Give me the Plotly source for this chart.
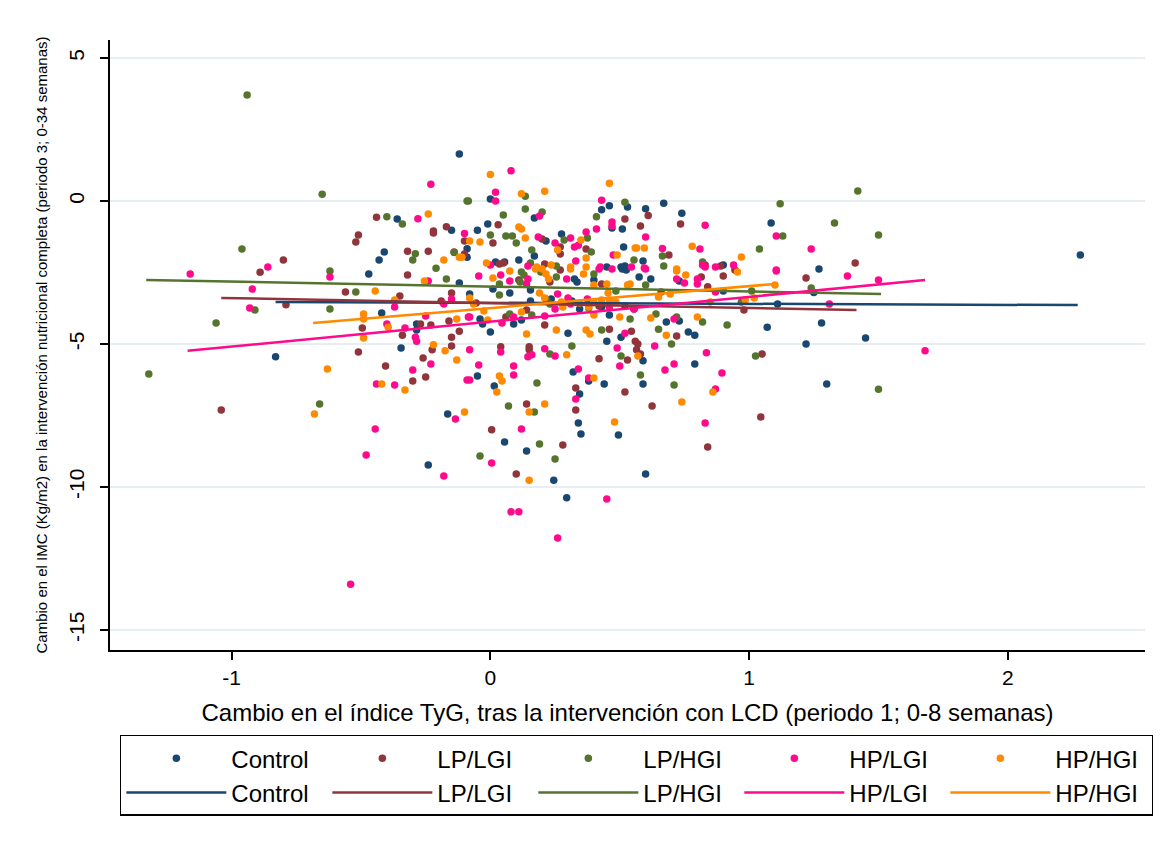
import plotly.graph_objects as go

groups = ["Control", "LP/LGI", "LP/HGI", "HP/LGI", "HP/HGI"]
colors = ["#1a476f", "#90353b", "#55752f", "#ff0a8c", "#ff8a00"]

control_pts = [(2.28,-1.89),(1.27,-2.38),(1.25,-3.2),(1.28,-4.27),(1.22,-5.0),(1.45,-4.79),(1.30,-6.4),
(-0.83,-5.45),(-0.12,1.64),(-0.36,-0.63),(-0.15,-1.02),(-0.41,-1.78),(-0.43,-2.06),(-0.09,-1.97),(-0.09,-1.67),
(0.0,0.07),(0.46,-0.17),(0.53,-0.21),(0.43,-0.31),(0.47,-0.94),(0.51,-0.98),(0.17,-0.59),(-0.01,-0.8),(-0.05,-1.02),
(0.215,-1.4),(0.275,-1.15),(0.515,-1.61),(0.17,-1.92),(0.11,-2.06),(0.02,-2.13),(0.055,-2.13),(0.45,-2.31),(0.505,-2.31),(0.52,-2.27),
(0.67,-0.08),(0.60,-0.27),(0.74,-0.43),(0.59,-2.1),(0.90,-2.24),(1.085,-0.77),
(-0.47,-2.55),(-0.12,-2.87),(-0.42,-3.92),(-0.285,-4.3),(-0.285,-4.51),(-0.345,-5.14),(-0.165,-7.45),(-0.24,-9.23),
(0.01,-3.08),(0.325,-2.73),(0.335,-2.83),(0.40,-2.76),(0.51,-2.38),(0.525,-2.41),(0.075,-3.22),(0.155,-3.11),(0.155,-3.5),
(0.235,-3.43),(0.315,-3.5),(0.345,-3.78),(0.43,-3.71),(0.52,-3.67),(0.46,-3.99),(0.45,-4.9),(0.505,-4.76),(0.30,-4.62),
(0.12,-4.16),(0.09,-4.3),(-0.04,-4.13),(-0.03,-4.3),(0.0,-4.58),(-0.08,-3.25),(-0.05,-6.12),(0.015,-6.47),(0.32,-5.98),
(0.38,-6.29),(0.345,-6.75),(0.44,-6.4),(0.34,-7.76),(0.35,-8.15),(0.495,-8.18),(0.055,-8.43),(0.14,-8.74),(0.245,-9.76),
(0.295,-10.38),(0.575,-2.66),(0.62,-2.73),(0.73,-2.8),(0.90,-3.15),(1.11,-3.6),(0.68,-4.23),(0.73,-4.2),(0.765,-4.58),
(0.79,-4.69),(1.07,-4.41),(0.59,-5.59),(0.79,-5.7),(0.59,-6.4),(0.60,-9.55)]

lplgi_pts = [(1.41,-2.17),(1.22,-2.69),(-0.80,-2.06),(-0.89,-2.49),(-0.79,-3.63),(-1.04,-7.31),
(-0.44,-0.57),(-0.22,-1.05),(-0.22,-1.12),(-0.17,-0.9),(-0.10,-1.4),(-0.51,-1.19),(-0.52,-1.43),(-0.32,-1.76),(-0.24,-1.76),
(-0.14,-1.78),(-0.10,-1.85),(0.52,-0.63),(0.03,-0.83),(0.01,-1.47),(0.20,-1.33),(0.27,-1.61),(0.27,-1.85),(0.37,-1.68),
(0.035,-2.2),(0.05,-2.17),(0.21,-2.2),(0.61,-0.51),(0.58,-0.87),(0.735,-0.8),(0.69,-1.89),(0.83,-2.24),(0.89,-2.27),
(-0.32,-2.59),(-0.56,-3.18),(-0.35,-3.32),(-0.15,-3.22),(-0.19,-3.5),(-0.495,-4.44),(-0.34,-4.69),(-0.27,-4.3),(-0.23,-4.34),
(-0.16,-4.2),(-0.12,-4.55),(-0.15,-4.76),(-0.15,-5.07),(-0.225,-5.2),(-0.51,-5.28),(-0.26,-5.49),(-0.405,-5.77),(-0.25,-6.15),
(-0.30,-6.29),(0.11,-2.76),(0.23,-2.83),(0.27,-2.41),(0.43,-2.9),(0.22,-3.5),(0.42,-3.67),(0.46,-4.48),(0.545,-4.55),
(0.56,-4.9),(0.53,-5.56),(0.42,-5.52),(0.21,-4.34),(0.14,-3.81),(0.06,-4.06),(-0.055,-3.57),(0.04,-5.1),(0.15,-5.1),
(0.15,-5.2),(0.33,-6.54),(0.52,-6.68),(0.14,-7.1),(0.33,-7.31),(0.005,-8.0),(0.28,-8.53),(0.10,-9.55),
(0.815,-2.66),(0.90,-2.62),(0.945,-2.41),(0.84,-3.0),(0.66,-3.18),(0.98,-3.81),(0.555,-3.78),(0.72,-4.72),(0.57,-5.0),
(0.565,-5.2),(0.58,-5.35),(1.05,-5.35),(0.625,-7.17),(1.045,-7.55),(0.84,-8.6)]

lphgi_pts = [(-0.94,3.71),(-1.32,-6.05),(-0.96,-1.68),(-0.91,-3.81),(-1.06,-4.27),(-0.65,0.24),(-0.62,-2.45),(-0.66,-7.1),
(1.42,0.35),(1.50,-1.19),(1.50,-6.58),(1.33,-0.77),(1.24,-3.04),
(-0.09,0.0),(-0.40,-0.55),(-0.34,-0.80),(-0.29,-1.84),(-0.30,-2.06),(-0.14,-1.8),(-0.21,-2.35),
(0.135,0.17),(-0.085,0.0),(0.52,-0.04),(0.41,-0.55),(0.135,-0.28),(0.20,-0.38),(0.05,-0.49),(0.0,-1.19),(0.06,-1.22),
(0.085,-1.22),(0.10,-1.47),(0.285,-1.36),(0.375,-1.29),(0.39,-1.78),(0.16,-1.71),(0.155,-2.17),(0.255,-2.27),(0.555,-2.06),
(0.67,-2.27),(0.665,-1.92),(0.82,-2.13),(1.04,-1.68),(1.13,-1.22),(1.12,-0.10),
(-0.17,-2.73),(-0.52,-3.18),(-0.62,-3.78),
(0.12,-2.48),(0.13,-2.59),(0.035,-2.9),(0.115,-2.83),(0.195,-2.48),(0.255,-2.66),(0.40,-2.55),(0.485,-3.15),(0.035,-3.29),
(0.075,-3.95),(0.215,-3.43),(0.23,-3.6),(0.38,-3.74),(0.54,-4.13),(0.43,-4.51),(0.505,-5.42),(0.315,-5.07),(0.23,-5.35),
(0.16,-3.99),(0.18,-6.36),(0.07,-7.17),(0.17,-7.38),(0.19,-8.5),(-0.04,-8.92),(0.25,-9.02),
(0.60,-2.94),(1.01,-3.15),(0.97,-3.53),(0.64,-3.95),(0.82,-4.23),(0.72,-4.06),(0.65,-4.48),(0.915,-4.34),(0.70,-5.0),
(1.025,-5.42),(0.58,-6.08),(0.71,-6.43)]

hplgi_pts = [(1.24,-1.68),(1.38,-2.62),(1.50,-2.76),(1.31,-3.6),(1.68,-5.24),
(-0.86,-2.31),(-1.16,-2.55),(-0.92,-3.08),(-0.93,-3.74),(-0.23,0.59),(-0.28,-0.62),(-0.10,-1.14),
(0.08,1.06),(0.02,0.31),(0.02,0.0),(0.43,0.03),(0.19,-0.52),(0.41,-0.98),(0.47,-0.73),(0.47,-0.87),(0.185,-1.26),(0.31,-1.29),
(0.25,-1.47),(0.325,-1.61),(0.34,-1.55),(0.37,-1.08),(0.475,-1.89),(0.33,-2.1),(0.0,-2.24),(0.145,-2.27),(0.425,-2.31),(0.545,-2.31),
(0.83,-0.85),(0.60,-1.26),(0.665,-1.66),(0.81,-1.68),(0.82,-2.24),(0.94,-2.24),(1.105,-1.22),(1.105,-2.41),(0.595,-2.34),
(-0.62,-2.66),(-0.24,-2.8),(-0.15,-3.43),(-0.18,-3.6),(-0.37,-3.71),(-0.25,-4.02),(-0.40,-4.3),(-0.33,-4.44),(-0.29,-4.76),
(-0.285,-4.9),(-0.085,-4.06),(-0.23,-5.7),(-0.30,-5.91),(-0.44,-6.4),(-0.37,-6.43),(-0.09,-6.26),
(-0.445,-7.97),(-0.48,-8.88),(-0.135,-7.62),(-0.18,-9.62),
(-0.045,-2.62),(0.04,-2.59),(0.075,-2.8),(0.145,-2.73),(0.14,-2.9),(0.295,-2.73),(0.42,-2.38),(0.47,-2.38),(0.26,-3.25),
(0.30,-3.39),(0.31,-3.6),(0.375,-3.43),(0.46,-3.71),(0.555,-3.78),(0.52,-4.62),(0.49,-5.14),(0.50,-5.77),(0.25,-5.42),
(0.21,-5.17),(0.21,-4.02),(0.25,-3.78),(0.09,-4.06),(0.045,-4.27),(-0.08,-4.06),(0.04,-5.28),(0.145,-5.45),(0.16,-5.38),
(-0.08,-5.2),(-0.045,-5.73),(0.09,-5.77),(0.09,-6.08),(-0.08,-6.26),(0.34,-5.87),(0.38,-6.19),(0.33,-6.92),
(0.12,-7.97),(0.005,-9.16),(0.45,-10.42),(0.08,-10.87),(0.11,-10.87),(0.26,-11.78),(-0.54,-13.4),
(0.60,-2.38),(0.72,-2.73),(0.75,-2.87),(0.80,-2.73),(0.80,-2.9),(0.83,-2.31),(0.87,-2.31),(1.105,-2.45),(0.87,-3.18),
(0.71,-4.13),(0.635,-5.07),(0.835,-5.31),(0.71,-5.7),(0.675,-5.91),(0.895,-6.01),(0.87,-6.57),(0.83,-7.76)]

hphgi_pts = [(-0.24,-0.45),(-0.08,-1.4),(-0.18,-2.06),(-0.12,-1.97),(-0.11,-1.97),
(0.00,0.93),(0.46,0.62),(0.12,0.25),(0.21,0.34),(0.11,-0.91),(0.12,-0.98),(-0.04,-1.43),(0.135,-1.29),(0.26,-1.71),
(0.35,-1.36),(0.56,-1.64),(0.49,-1.89),(0.37,-1.99),(-0.015,-2.17),(0.18,-2.31),(0.235,-2.24),(0.37,-2.31),(0.31,-2.31),
(0.565,-1.64),(0.595,-1.64),(0.78,-1.58),(0.72,-2.38),(0.97,-1.96),
(-0.255,-2.8),(-0.445,-3.15),(-0.37,-3.46),(-0.49,-3.95),(-0.49,-4.13),(-0.395,-4.41),(-0.49,-4.79),(-0.13,-4.13),
(-0.22,-5.03),(-0.175,-5.24),(-0.13,-5.56),(-0.63,-5.87),(-0.42,-6.4),(-0.33,-6.61),(-0.68,-7.45),(-0.10,-7.38),
(0.01,-2.69),(0.075,-2.45),(0.175,-2.38),(0.20,-2.38),(0.215,-2.55),(0.225,-2.73),(0.31,-2.38),(0.36,-2.55),(0.40,-2.94),
(0.45,-2.9),(0.455,-3.22),(0.53,-2.94),(0.54,-2.9),(0.19,-3.22),(0.21,-3.39),(0.275,-3.53),(0.28,-3.71),(0.345,-3.57),
(0.38,-3.71),(0.40,-3.53),(0.43,-3.46),(0.46,-3.46),(0.485,-3.53),(0.40,-3.99),(0.50,-4.06),(0.37,-4.51),(0.385,-4.65),
(0.255,-4.51),(0.14,-4.65),(0.295,-5.38),(0.12,-3.88),(-0.01,-4.16),(-0.065,-3.6),(-0.025,-3.85),(-0.08,-3.39),
(0.035,-6.12),(0.045,-6.29),(0.025,-6.68),(0.40,-6.19),(0.21,-7.1),(0.15,-7.38),(0.48,-7.73),(0.15,-9.76),
(0.72,-2.45),(0.755,-2.59),(0.955,-2.48),(1.10,-2.94),(0.65,-3.36),(0.695,-3.25),(0.85,-3.53),(0.985,-3.46),(1.02,-3.39),
(0.62,-4.09),(0.80,-4.06),(0.68,-4.69),(0.57,-5.42),(0.86,-6.68),(0.74,-7.03)]

points = [control_pts, lplgi_pts, lphgi_pts, hplgi_pts, hphgi_pts]

# Fitted lines: x start/end and y start/end
fit_x0 = [-0.83, -1.04, -1.33, -1.17, -0.685]
fit_x1 = [2.27, 1.415, 1.51, 1.68, 1.10]
fit_y0 = [-3.53, -3.39, -2.76, -5.24, -4.27]
fit_y1 = [-3.64, -3.81, -3.25, -2.76, -2.90]

x_ticks = [-1, 0, 1, 2]
y_ticks = [5, 0, -5, -10, -15]

FONT = "Arial, Liberation Sans, sans-serif"

fig = go.Figure()
for g, c, pts in zip(groups, colors, points):
    fig.add_trace(go.Scatter(
        x=[p[0] for p in pts], y=[p[1] for p in pts], mode="markers", name=g,
        marker=dict(color=c, size=7.5, line=dict(width=0)),
    ))
for i, (g, c) in enumerate(zip(groups, colors)):
    fig.add_trace(go.Scatter(
        x=[fit_x0[i], fit_x1[i]], y=[fit_y0[i], fit_y1[i]], mode="lines", name=g,
        line=dict(color=c, width=2.5),
    ))

fig.update_layout(
    width=1170, height=859,
    margin=dict(l=110, r=25, t=40, b=209),
    plot_bgcolor="white", paper_bgcolor="white",
    font=dict(family=FONT, color="black"),
    showlegend=True,
    legend=dict(
        orientation="h", x=0.0097, xanchor="left", y=-0.139, yanchor="top",
        bordercolor="black", borderwidth=1.3, font=dict(size=24, family=FONT),
        entrywidth=91, entrywidthmode="pixels", itemwidth=100, tracegroupgap=0,
    ),
    xaxis=dict(
        range=[-1.47, 2.53], tickvals=x_ticks, ticktext=[str(v) for v in x_ticks],
        showgrid=False, zeroline=False, showline=True, linecolor="black", linewidth=1.5,
        ticks="outside", ticklen=8, tickwidth=1.5, tickcolor="black",
        tickfont=dict(size=21, family=FONT),
        title=dict(text="Cambio en el índice TyG, tras la intervención con LCD (periodo 1; 0-8 semanas)",
                   font=dict(size=24, family=FONT), standoff=16),
    ),
    yaxis=dict(
        range=[-15.70, 5.63], tickvals=y_ticks, ticktext=[str(v) for v in y_ticks],
        showgrid=True, gridcolor="#e6eef1", gridwidth=2, zeroline=False,
        showline=True, linecolor="black", linewidth=1.5,
        ticks="outside", ticklen=8, tickwidth=1.5, tickcolor="black", tickangle=-90,
        ticklabelstandoff=8,
        tickfont=dict(size=21, family=FONT),
        title=dict(text="Cambio en el IMC (Kg/m2) en la intervención nutricional completa (periodo 3; 0-34 semanas)",
                   font=dict(size=15, family=FONT), standoff=14),
    ),
)

fig.write_html("out.html")
